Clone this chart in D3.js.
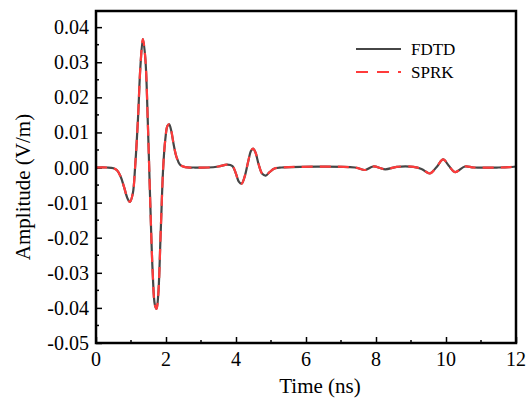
<!DOCTYPE html>
<html><head><meta charset="utf-8">
<script src="https://cdn.jsdelivr.net/npm/d3@7"></script>
<style>body{margin:0;background:#fff}svg{display:block}</style>
</head><body>
<svg id="c" width="532" height="399"></svg>
<script>
const timeNs = [0,0.3,0.5,0.6,0.7,0.8,0.9,0.97,1.05,1.12,1.2,1.27,1.34,1.41,1.48,1.55,1.62,1.68,1.73,1.78,1.85,1.92,1.98,2.04,2.09,2.15,2.22,2.3,2.4,2.55,2.8,3.2,3.5,3.75,3.9,4.0,4.08,4.16,4.25,4.35,4.43,4.49,4.56,4.65,4.75,4.85,4.95,5.1,5.3,7.4,7.69,7.92,8.26,8.59,9.07,9.3,9.54,9.72,9.92,10.08,10.26,10.54,10.8,11.5,11.8,12];
const fdtd = [0,0,-0.0002,-0.0008,-0.0025,-0.0055,-0.0088,-0.0098,-0.0075,0.0005,0.014,0.029,0.0366,0.031,0.013,-0.010,-0.030,-0.039,-0.0403,-0.036,-0.018,0.000,0.008,0.0118,0.0123,0.0105,0.0065,0.003,0.0008,0.0001,0,0,0.0003,0.0008,0.0004,-0.0018,-0.0040,-0.0046,-0.0025,0.0018,0.0048,0.0054,0.0042,0.0008,-0.0018,-0.0023,-0.0014,-0.0003,0,0,-0.0007,0.0003,-0.0005,0.0002,0.0002,-0.0004,-0.0017,0.0000,0.0023,0.0005,-0.0013,0.0003,0,0,0.0001,0.0003];
const sprk = fdtd.slice();
const xTicks = [0,2,4,6,8,10,12];
const yTicks = [-0.05,-0.04,-0.03,-0.02,-0.01,0.00,0.01,0.02,0.03,0.04];
const xTickLabels = ["0","2","4","6","8","10","12"];
const yTickLabels = ["-0.05","-0.04","-0.03","-0.02","-0.01","0.00","0.01","0.02","0.03","0.04"];
const seriesNames = ["FDTD","SPRK"];

const svg = d3.select("#c");
const L=96,R=516,T=11,B=343;
const x = d3.scaleLinear().domain([0,12]).range([L,R]);
const y = d3.scaleLinear().domain([-0.05,0.0446]).range([B,T]);
const font = "Liberation Serif";

// minor ticks
const xMinor = d3.range(1,12,2);
const yMinor = d3.range(-0.045,0.044,0.01);
svg.append("g").selectAll("line").data(xMinor).join("line")
  .attr("x1",d=>x(d)).attr("x2",d=>x(d)).attr("y1",B).attr("y2",B-3)
  .attr("stroke","#000").attr("stroke-width",1.5);
svg.append("g").selectAll("line").data(yMinor).join("line")
  .attr("y1",d=>y(d)).attr("y2",d=>y(d)).attr("x1",L).attr("x2",L+3)
  .attr("stroke","#000").attr("stroke-width",1.5);

const xAxis = svg.append("g").attr("transform",`translate(0,${B})`)
  .call(d3.axisBottom(x).tickValues(xTicks).tickSize(-6).tickFormat(""));
const yAxis = svg.append("g").attr("transform",`translate(${L},0)`)
  .call(d3.axisLeft(y).tickValues(yTicks).tickSize(-6).tickFormat(""));
[xAxis,yAxis].forEach(ax=>{
  ax.select(".domain").remove();
  ax.selectAll(".tick line").attr("stroke","#000").attr("stroke-width",1.5);
  ax.selectAll(".tick text").remove();
});

// tick labels
svg.append("g").selectAll("text").data(xTicks).join("text")
  .attr("x",d=>x(d)).attr("y",366).attr("text-anchor","middle")
  .attr("font-family",font).attr("font-size",20).attr("fill","#000")
  .text((d,i)=>xTickLabels[i]);
svg.append("g").selectAll("text").data(yTicks).join("text")
  .attr("x",89).attr("y",d=>y(d)+7).attr("text-anchor","end")
  .attr("font-family",font).attr("font-size",20).attr("fill","#000")
  .text((d,i)=>yTickLabels[i]);

const line = d3.line().x((d,i)=>x(timeNs[i])).y(d=>y(d)).curve(d3.curveCatmullRom.alpha(0.5));
const plot = svg.append("g");
plot.append("path").attr("d",line(fdtd)).attr("fill","none").attr("stroke","#464646").attr("stroke-width",2.2);
plot.append("path").attr("d",line(sprk)).attr("fill","none").attr("stroke","#ff3b3b").attr("stroke-width",2.2).attr("stroke-dasharray","11,7");

// frame
svg.append("rect").attr("x",L).attr("y",T).attr("width",R-L).attr("height",B-T)
  .attr("fill","none").attr("stroke","#000").attr("stroke-width",2.5);

// titles
svg.append("text").attr("x",320).attr("y",393).attr("text-anchor","middle")
  .attr("font-family",font).attr("font-size",21).text("Time (ns)");
svg.append("text").attr("transform","translate(30,187) rotate(-90)").attr("text-anchor","middle")
  .attr("font-family",font).attr("font-size",21).text("Amplitude (V/m)");

// legend
const leg = svg.append("g");
const legY=[49,72];
leg.append("line").attr("x1",356).attr("x2",401).attr("y1",legY[0]).attr("y2",legY[0]).attr("stroke","#464646").attr("stroke-width",2.2);
leg.append("line").attr("x1",356).attr("x2",401).attr("y1",legY[1]).attr("y2",legY[1]).attr("stroke","#ff3b3b").attr("stroke-width",2.2).attr("stroke-dasharray","12,9");
leg.selectAll("text").data(seriesNames).join("text").attr("x",411).attr("y",(d,i)=>legY[i]+6)
  .attr("font-family",font).attr("font-size",17).text(d=>d);
</script>
</body></html>
